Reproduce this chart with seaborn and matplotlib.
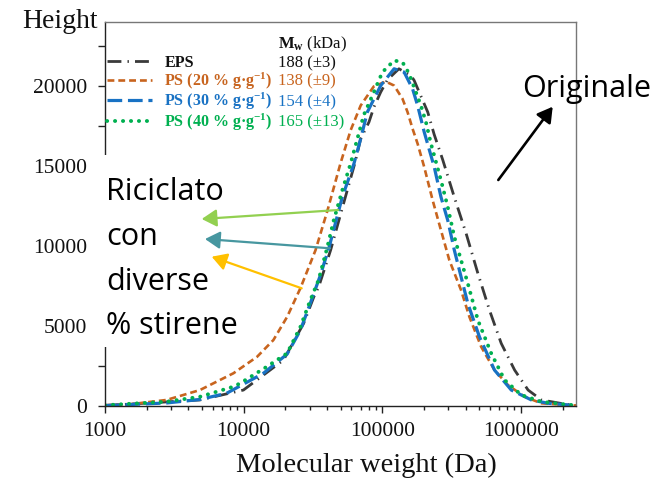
import numpy as np
import pandas as pd
import matplotlib
matplotlib.use("Agg")
import matplotlib.pyplot as plt
import seaborn as sns
from matplotlib.ticker import FixedLocator, LogLocator, MultipleLocator, FuncFormatter, NullFormatter
from matplotlib.patches import Rectangle, FancyArrowPatch

# ---------------- data ----------------
series_labels = ["EPS",
                 r"PS (20 % g·g$^{\mathbf{-1}}$)",
                 r"PS (30 % g·g$^{\mathbf{-1}}$)",
                 r"PS (40 % g·g$^{\mathbf{-1}}$)"]
mw_labels = ["188 (±3)", "138 (±9)", "154 (±4)", "165 (±13)"]
x_tick_values = [1000, 10000, 100000, 1000000]

eps_mw = [1000, 4840, 9970, 19400, 27100, 32100, 34800, 42400, 51700, 64300, 69900,
          80200, 87200, 97500, 109000, 132000, 161000, 170000, 213000, 237000, 273000,
          331000, 403000, 490000, 594000, 722000, 902000, 1128000, 1408000, 2077000, 2500000]
eps_h = [10, 360, 980, 2860, 5150, 6810, 7440, 9730, 12420, 15360, 16710,
         17750, 18700, 19630, 20400, 21090, 20670, 20360, 18380, 16980, 15400,
         13060, 10780, 8280, 5980, 3900, 2230, 980, 360, 100, 10]

ps20_mw = [1000, 1590, 2780, 4840, 8440, 12500, 16400, 20600, 25700, 33000, 40300,
           50000, 59100, 69900, 86800, 106000, 121800, 140100, 152300, 165500, 180000,
           200900, 231100, 265400, 304900, 370600, 425600, 517300, 645800, 807500,
           1065000, 1408000, 2500000]
ps20_h = [30, 110, 360, 980, 2030, 3060, 4110, 5560, 7360, 9730, 12230,
          15170, 17230, 18790, 19980, 20290, 20040, 19210, 18380, 17340, 16400,
          14940, 12860, 10980, 9110, 7230, 5560, 3690, 2230, 1290,
          560, 150, 10]

ps30_mw = [1000, 2780, 4840, 7550, 13900, 20600, 25700, 30300, 35800, 41200, 51500,
           62500, 69900, 78100, 97500, 121800, 143900, 165500, 180000, 200900, 237300,
           265400, 296900, 331400, 414400, 502900, 645800, 853500, 1192000, 1574000, 2500000]
ps30_h = [10, 170, 390, 780, 2030, 3230, 4730, 6420, 8170, 9860, 13060,
          15150, 16710, 18380, 20040, 21090, 20880, 19840, 18790, 17130, 14940,
          13060, 11610, 9730, 6400, 4310, 2230, 980, 360, 150, 10]

ps40_mw = [1000, 2780, 4840, 8440, 9430, 14700, 20600, 25700, 30300, 34700, 40000,
           44700, 51500, 59100, 68200, 73400, 84900, 100300, 121800, 140100, 156400,
           174900, 190100, 206700, 224700, 265400, 296900, 331400, 414400, 489700,
           611300, 763100, 1008000, 1408000, 1966000, 2500000]
ps40_h = [30, 250, 560, 1190, 1400, 2440, 3280, 4940, 6610, 7860, 9860,
          11610, 13480, 15150, 17130, 18170, 19420, 20880, 21610, 21500, 20780,
          19630, 18790, 17750, 16400, 14110, 12440, 10560, 7650, 5360,
          3280, 1610, 670, 250, 110, 10]

# ---------------- style ----------------
sns.set_theme(style="ticks")
plt.rcParams["font.family"] = ["Liberation Serif", "DejaVu Serif"]
plt.rcParams["mathtext.fontset"] = "custom"
plt.rcParams["mathtext.rm"] = "Liberation Serif"
plt.rcParams["mathtext.bf"] = "Liberation Serif:bold"
plt.rcParams["mathtext.it"] = "Liberation Serif:italic"

W, H = 671, 483
fig = plt.figure(figsize=(W / 100, H / 100), dpi=100)
ax_l, ax_r, ax_t, ax_b = 105, 576, 22.3, 405.7
ax = fig.add_axes([ax_l / W, 1 - ax_b / H, (ax_r - ax_l) / W, (ax_b - ax_t) / H])

colors = ["#3a3a3a", "#C8641E", "#1872C4", "#00B050"]
styles = [
    dict(lw=2.0, ls=(0, (5, 2.2, 0.5, 2.2))),
    dict(lw=1.9, ls=(0, (2.6, 1.5))),
    dict(lw=2.3, ls=(0, (4.6, 1.8))),
    dict(lw=2.8, ls=(0, (0.05, 2.0))),
]
data = [(eps_mw, eps_h), (ps20_mw, ps20_h), (ps30_mw, ps30_h), (ps40_mw, ps40_h)]

handles = []
for (mw, hh), c, st, lab in zip(data, colors, styles, series_labels):
    df = pd.DataFrame({"mw": mw, "h": hh})
    sns.lineplot(data=df, x="mw", y="h", ax=ax, color=c, errorbar=None, sort=True)
    ln = ax.lines[-1]
    ln.set_linewidth(st["lw"])
    ln.set_linestyle(st["ls"])
    ln.set_dash_capstyle("round" if c == "#00B050" else "butt")
    handles.append(ln)

ax.set_xscale("log")
ax.set_xlim(1000, 2.5e6)
ax.set_ylim(0, 24000)
ax.xaxis.set_major_locator(FixedLocator(x_tick_values))
ax.xaxis.set_major_formatter(FuncFormatter(lambda v, p: f"{int(round(v))}"))
ax.xaxis.set_minor_locator(LogLocator(base=10, subs=np.arange(2, 10)))
ax.xaxis.set_minor_formatter(NullFormatter())
ax.yaxis.set_major_locator(MultipleLocator(5000))
ax.yaxis.set_minor_locator(MultipleLocator(2500))
ax.yaxis.set_major_formatter(FuncFormatter(lambda v, p: f"{int(round(v))}"))

ax.tick_params(axis="both", which="major", direction="out", length=5, width=1,
               labelsize=15.5, color="#222222", labelcolor="#111111")
ax.tick_params(axis="x", which="major", pad=7)
ax.tick_params(axis="y", which="major", pad=8)
ax.tick_params(axis="x", which="minor", direction="out", length=3, width=1, color="#222222")
ax.tick_params(axis="y", which="minor", direction="out", length=5, width=1, color="#222222")
for s in ["left", "bottom"]:
    ax.spines[s].set_color("#222222")
    ax.spines[s].set_linewidth(1.0)
for s in ["top", "right"]:
    ax.spines[s].set_color("#777777")
    ax.spines[s].set_linewidth(1.0)
    ax.spines[s].set_visible(True)

ax.set_xlabel("Molecular weight (Da)", fontsize=20.5, color="#111111")
ax.xaxis.set_label_coords((366 - ax_l) / (ax_r - ax_l), -0.122)
ax.set_ylabel("Height", fontsize=20, rotation=0, ha="left", va="baseline", color="#111111")
ax.yaxis.set_label_coords((22 - ax_l) / (ax_r - ax_l), (ax_b - 28) / (ax_b - ax_t))

# legend
leg = ax.legend(handles, series_labels, loc="upper left",
                bbox_to_anchor=(0.004, (ax_b - 55) / (ax_b - ax_t)),
                frameon=False, prop={"weight": "bold", "size": 11.5},
                handlelength=2.8, handletextpad=0.8, labelspacing=-0.05,
                borderpad=0, borderaxespad=0)
for t, c in zip(leg.get_texts(), colors):
    t.set_color(c if c != "#3a3a3a" else "#111111")

fig.canvas.draw()
base_y = []
for t in leg.get_texts():
    xd, yd = t.get_transform().transform(t.get_position())
    base_y.append(yd)
dy = base_y[0] - base_y[1]
mw_x = 278 / W
fig.text(mw_x, (base_y[0] + dy) / H, r"$\mathbf{M}_{\mathbf{w}}$ (kDa)", fontsize=12,
         va="baseline", ha="left", color="#111111")
for yb, lab, c in zip(base_y, mw_labels, colors):
    fig.text(mw_x, yb / H, lab, fontsize=12, va="baseline", ha="left",
             color=c if c != "#3a3a3a" else "#111111")

# white box behind the annotation text (covers the left spine)
fig.add_artist(Rectangle((90 / W, 1 - 347 / H), (250 - 90) / W, (347 - 155) / H,
                         transform=fig.transFigure, facecolor="white",
                         edgecolor="none", zorder=5))

sans = ["Open Sans", "DejaVu Sans"]
for txt, yb in zip(["Riciclato", "con", "diverse", "% stirene"], [200, 245, 290, 333.5]):
    fig.text(106 / W, 1 - yb / H, txt, family=sans, fontsize=22, va="baseline",
             ha="left", color="#000000", zorder=7)
fig.text(522 / W, 1 - 97 / H, "Originale", family=sans, fontsize=22, va="baseline",
         ha="left", color="#000000", zorder=7)


def arrow(tail, tip, color, lw):
    p = FancyArrowPatch((tail[0] / W, 1 - tail[1] / H), (tip[0] / W, 1 - tip[1] / H),
                        transform=fig.transFigure, arrowstyle="-|>,head_length=0.6,head_width=0.35",
                        mutation_scale=15, color=color, lw=lw, shrinkA=0, shrinkB=0, zorder=6)
    fig.add_artist(p)


arrow((498.3, 180), (552.7, 106.7), "#000000", 1.9)
arrow((338.3, 210), (201.7, 219), "#92D050", 1.6)
arrow((330, 248.3), (205, 239), "#4797A0", 1.6)
arrow((301.7, 288.3), (211.7, 256.7), "#FFC000", 1.6)

fig.savefig("out.png", dpi=100)
